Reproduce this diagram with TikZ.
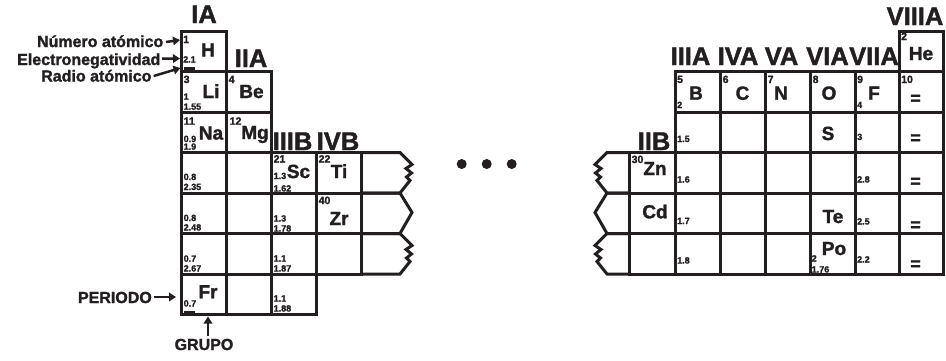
\documentclass[tikz,border=0pt]{standalone}
\usepackage{fontspec}
\setmainfont{Liberation Sans}[BoldFeatures={FakeBold=1.6}]
\usetikzlibrary{arrows.meta}
\definecolor{ink}{RGB}{35,31,32}
\tikzset{
  grid/.style={line width=3pt, draw=ink},
  grp/.style={font=\fontsize{25.5}{25.5}\selectfont\bfseries, anchor=base, inner sep=0pt, text=ink},
  sym/.style={font=\fontsize{19}{19}\selectfont\bfseries, anchor=base, inner sep=0pt, text=ink},
  anum/.style={font=\fontsize{10.5}{10.5}\selectfont\bfseries, anchor=base west, inner sep=0pt, text=ink},
  val/.style={font=\fontsize{9}{9}\selectfont\bfseries, anchor=base west, inner sep=0pt, text=ink},
  side/.style={font=\fontsize{16}{16}\selectfont\bfseries, anchor=base east, inner sep=0pt, text=ink},
  eqsign/.style={font=\fontsize{18}{18}\selectfont\bfseries, inner sep=0pt, text=ink},
  arr/.style={line width=2.5pt, draw=ink, -{Triangle[length=7pt,width=8.5pt]}},
}
\begin{document}
\begin{tikzpicture}[x=1pt, y=-1pt]
\useasboundingbox (0,0) rectangle (946,360);

% ---------- left block: groups IA, IIA, IIIB, IVB ----------
\foreach \r in {0,...,6} \draw[grid] (181,{31+40.5*\r}) rectangle ++(45,40.5);
\foreach \r in {1,...,6} \draw[grid] (226,{31+40.5*\r}) rectangle ++(45,40.5);
\foreach \r in {3,...,6} \draw[grid] (271,{31+40.5*\r}) rectangle ++(45,40.5);
\foreach \r in {3,...,5} \draw[grid] (316,{31+40.5*\r}) rectangle ++(45,40.5);
% torn cells on the right edge
\foreach \r in {3,5} {
  \pgfmathsetmacro\t{31+40.5*\r}
  \draw[grid] (361,\t) -- (400,\t) -- (412,\t+12) -- (406,\t+16) -- (411.5,\t+20.5)
    -- (406.5,\t+24.5) -- (410,\t+28) -- (400,\t+40.5) -- (361,\t+40.5);
}
\draw[grid] (361,193) -- (400,193) -- (412,212.5) -- (400,233.5) -- (361,233.5);

% ---------- right block: groups IIB to VIIIA ----------
\foreach \r in {0,...,5} \draw[grid] (899,{31+40.5*\r}) rectangle ++(44,40.5);
\foreach \x in {675,720,765,810}
  \foreach \r in {1,...,5} \draw[grid] (\x,{31+40.5*\r}) rectangle ++(45,40.5);
\foreach \r in {1,...,5} \draw[grid] (855,{31+40.5*\r}) rectangle ++(44,40.5);
\foreach \r in {3,...,5} \draw[grid] (629,{31+40.5*\r}) rectangle ++(46,40.5);
% torn cells on the left edge
\foreach \r in {3,5} {
  \pgfmathsetmacro\t{31+40.5*\r}
  \draw[grid] (629,\t) -- (607,\t) -- (595,\t+12) -- (601,\t+16) -- (595.5,\t+20.5)
    -- (600.5,\t+24.5) -- (597,\t+28) -- (607,\t+40.5) -- (629,\t+40.5);
}
\draw[grid] (629,193) -- (607,193) -- (595,212.5) -- (607,233.5) -- (629,233.5);

% ellipsis between the blocks
\foreach \x in {461.7,486.7,511.7} \fill[ink] (\x,164) circle[radius=5pt];

% ---------- group headings ----------
\node[grp] (g-ia) at (204,23) {IA};
\node[grp] (g-iia) at (251,67) {IIA};
\node[grp] (g-iiib) at (292.5,150) {IIIB};
\node[grp] (g-ivb) at (338,150) {IVB};
\node[grp] (g-iib) at (654,150) {IIB};
\node[grp] (g-iiia) at (690.5,65) {IIIA};
\node[grp] (g-iva) at (738,65) {IVA};
\node[grp] (g-va) at (781.5,65) {VA};
\node[grp] (g-via) at (827.5,65) {VIA};
\node[grp] (g-viia) at (874,65) {VIIA};
\node[grp] (g-viiia) at (915,25) {VIIIA};

% ---------- group IA ----------
\node[anum] (z-h) at (183,43) {1};
\node[sym] (s-h) at (208,56.5) {H};
\node[val] (e-h) at (183,62.5) {2.1};
\fill[ink] (184,66.5) rectangle (195,70.5);

\node[anum] (z-li) at (183.5,83) {3};
\node[sym] (s-li) at (211,98) {Li};
\node[val] (e-li) at (183.5,99.7) {1};
\node[val] (r-li) at (183.5,109.7) {1.55};

\node[anum] (z-na) at (183.5,124.7) {11};
\node[sym] (s-na) at (211,139.5) {Na};
\node[val] (e-na) at (183.5,142) {0.9};
\node[val] (r-na) at (183.5,149.7) {1.9};

\node[val] (e-k) at (183.5,180) {0.8};
\node[val] (r-k) at (183.5,190) {2.35};
\node[val] (e-rb) at (183.5,221) {0.8};
\node[val] (r-rb) at (183.5,230.5) {2.48};
\node[val] (e-cs) at (183.5,261.7) {0.7};
\node[val] (r-cs) at (183.5,271.5) {2.67};

\node[sym] (s-fr) at (208,298.3) {Fr};
\node[val] (e-fr) at (183.5,306.5) {0.7};
\fill[ink] (184,310.5) rectangle (195,314);

% ---------- group IIA ----------
\node[anum] (z-be) at (228.5,83) {4};
\node[sym] (s-be) at (251.5,98) {Be};
\node[anum] (z-mg) at (229.5,124.7) {12};
\node[sym] (s-mg) at (255,139) {Mg};

% ---------- group IIIB ----------
\node[anum] (z-sc) at (273.5,162.5) {21};
\node[sym] (s-sc) at (298.5,178) {Sc};
\node[val] (e-sc) at (273.5,179) {1.3};
\node[val] (r-sc) at (273.5,191.5) {1.62};
\node[val] (e-y) at (273.5,221.5) {1.3};
\node[val] (r-y) at (273.5,231.5) {1.78};
\node[val] (e-la) at (273.5,261.5) {1.1};
\node[val] (r-la) at (273.5,271.5) {1.87};
\node[val] (e-ac) at (273.5,301.5) {1.1};
\node[val] (r-ac) at (273.5,311.5) {1.88};

% ---------- group IVB ----------
\node[anum] (z-ti) at (318.5,162.5) {22};
\node[sym] (s-ti) at (339,178) {Ti};
\node[anum] (z-zr) at (318.5,204) {40};
\node[sym] (s-zr) at (339,225) {Zr};

% ---------- group VIIIA ----------
\node[anum] (z-he) at (901,40) {2};
\node[sym] (s-he) at (921,60) {He};
\node[anum] (z-ne) at (901,83) {10};
\node[eqsign] (q-1) at (915.5,99.5) {=};
\node[eqsign] (q-2) at (915.5,139) {=};
\node[eqsign] (q-3) at (915.5,182.5) {=};
\node[eqsign] (q-4) at (915.5,226) {=};
\node[eqsign] (q-5) at (915.5,265) {=};

% ---------- period 2 ----------
\node[anum] (z-b) at (677,83) {5};
\node[sym] (s-b) at (696,99.7) {B};
\node[val] (x-b) at (677,108) {2};
\node[anum] (z-c) at (722.5,83) {6};
\node[sym] (s-c) at (742.5,99.7) {C};
\node[anum] (z-n) at (767.5,83) {7};
\node[sym] (s-n) at (781,99.7) {N};
\node[anum] (z-o) at (812.5,83) {8};
\node[sym] (s-o) at (829,99.7) {O};
\node[anum] (z-f) at (857,83) {9};
\node[sym] (s-f) at (874,99.7) {F};
\node[val] (x-f) at (857,108) {4};

% ---------- periods 3 to 6 ----------
\node[val] (e-al) at (677,142) {1.5};
\node[sym] (s-s) at (828,140) {S};
\node[val] (x-cl) at (857,140) {3};

\node[anum] (z-zn) at (631.5,163) {30};
\node[sym] (s-zn) at (655,175) {Zn};
\node[val] (e-ga) at (677,182.5) {1.6};
\node[val] (e-br) at (857,182.5) {2.8};

\node[sym] (s-cd) at (655,218.3) {Cd};
\node[val] (e-in) at (677,224) {1.7};
\node[sym] (s-te) at (833,223) {Te};
\node[val] (e-i) at (857,224.5) {2.5};

\node[val] (e-tl) at (677,263.5) {1.8};
\node[sym] (s-po) at (834,255) {Po};
\node[val] (x-po) at (811.5,261.5) {2};
\node[val] (r-po) at (811.5,272.5) {1.76};
\node[val] (e-at) at (857,262.5) {2.2};

% ---------- legend labels and arrows ----------
\node[side] (l-num) at (163.5,47) {Número atómico};
\node[side] (l-en) at (160.5,65) {Electronegatividad};
\node[side] (l-rad) at (151.7,81.5) {Radio atómico};
\node[side] (l-per) at (152,303) {PERIODO};
\node[side, anchor=base] (l-grp) at (204,350) {GRUPO};

\coordinate (t-num) at (180,40);
\coordinate (t-en) at (180,58.5);
\coordinate (t-rad) at (180.5,68);
\coordinate (t-per) at (176,297);
\coordinate (t-grp) at (208,316.5);

\draw[arr] ([shift={(2.5pt,5pt)}]l-num.base east) -- (t-num);
\draw[arr] ([shift={(1.5pt,6.3pt)}]l-en.base east) -- (t-en);
\draw[arr] ([shift={(2pt,5.5pt)}]l-rad.base east) -- (t-rad);
\draw[arr] ([shift={(2pt,6pt)}]l-per.base east) -- (t-per);
\draw[arr] ([shift={(4pt,3pt)}]l-grp.north) -- (t-grp);
\end{tikzpicture}
\end{document}
